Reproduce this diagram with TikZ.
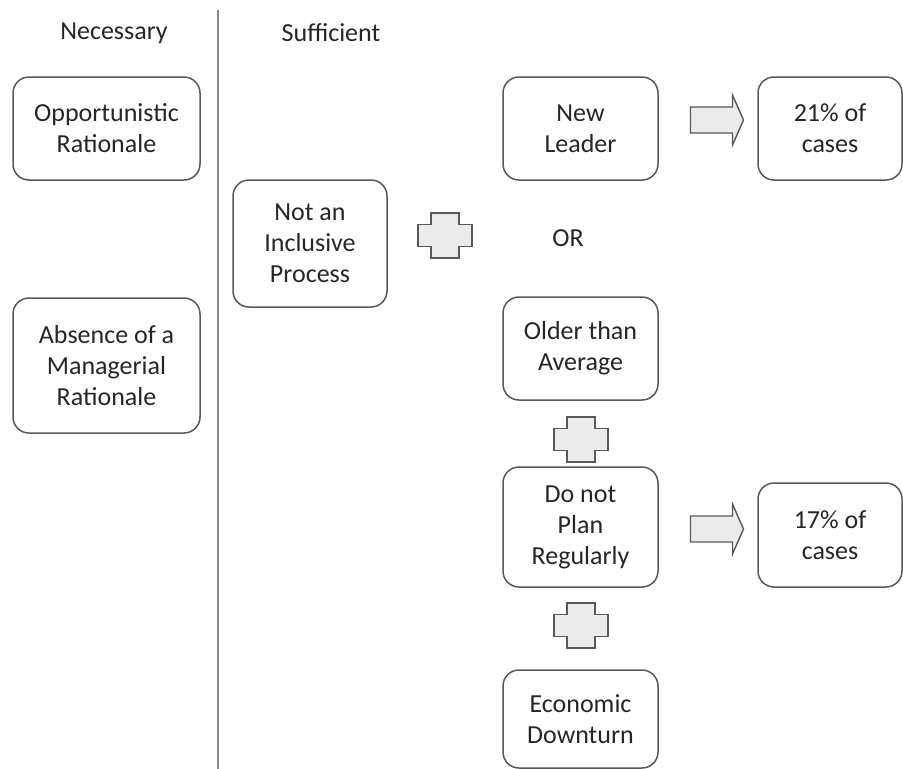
\documentclass[tikz,border=0pt]{standalone}
\usepackage{fontspec}
\setmainfont{Carlito}
\usetikzlibrary{positioning}

\definecolor{edgegray}{HTML}{595959}
\definecolor{fillgray}{HTML}{EBEBEB}
\definecolor{rulegray}{HTML}{8C8C8C}
\definecolor{textgray}{HTML}{262626}

\tikzset{
  plussign/.pic={
    \draw[line width=1.4pt, edgegray, fill=fillgray]
      (-14,-22.5) -- (14,-22.5) -- (14,-11) -- (27,-11) -- (27,11) -- (14,11)
      -- (14,22.5) -- (-14,22.5) -- (-14,11) -- (-27,11) -- (-27,-11) -- (-14,-11) -- cycle;
  },
  blockarrow/.pic={
    \draw[line width=1.4pt, edgegray, fill=fillgray]
      (-26.5,-13) -- (15.5,-13) -- (15.5,-25) -- (26.5,0) -- (15.5,25)
      -- (15.5,13) -- (-26.5,13) -- cycle;
  }
}

\begin{document}
\begin{tikzpicture}[x=1pt, y=-1pt,
                    every node/.style={align=center, text=textgray,
                                       font=\fontsize{26}{31}\selectfont},
                    box/.style={draw=edgegray, line width=1.5pt, rectangle,
                                rounded corners=16pt, minimum width=155pt, inner sep=0pt}]
  \useasboundingbox (0,0) rectangle (903,769);

  % Column headings and divider
  \node (necessary) at (114,33) {Necessary};
  \node (sufficient) at (331,33) {Sufficient};
  \coordinate (ruletop) at (218,10);
  \coordinate (rulebot) at (218,769);
  \draw[rulegray, line width=2pt] (ruletop) -- (rulebot);

  % Define nodes
  \node[box, minimum width=187pt, minimum height=103pt] (opportunistic) at (106.5,128.5)
    {Opportunistic\\Rationale};
  \node[box, minimum width=187pt, minimum height=135pt] (absence) at (106.5,365.5)
    {Absence of a\\Managerial\\Rationale};
  \node[box, minimum width=154pt, minimum height=127pt] (inclusive) at (310,243.5)
    {Not an\\Inclusive\\Process};

  \node[box, minimum height=103pt] (leader) at (580.5,128.5) {New\\Leader};
  \node (or) at (568,238) {OR};
  \node[box, minimum height=103pt] (older) at (580.5,348.5) {Older than\\Average};
  \node[box, minimum height=120pt] (noplan) at (580.5,527) {Do not\\Plan\\Regularly};
  \node[box, minimum height=98pt] (downturn) at (580.5,719) {Economic\\Downturn};

  \node[box, minimum width=144pt, minimum height=103pt] (cases21) at (830,128.5) {21\% of\\cases};
  \node[box, minimum width=144pt, minimum height=104pt] (cases17) at (830,535) {17\% of\\cases};

  % Plus signs and block arrows
  \pic (plusone) at (445,235.5) {plussign};
  \pic (plustwo) at (581,439.5) {plussign};
  \pic (plusthree) at (581,625.5) {plussign};
  \pic (arrowone) at (717,120) {blockarrow};
  \pic (arrowtwo) at (717,529) {blockarrow};
\end{tikzpicture}
\end{document}
